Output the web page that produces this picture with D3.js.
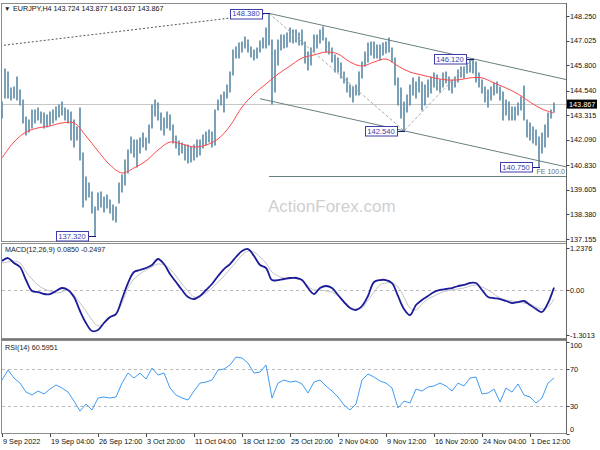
<!DOCTYPE html>
<html><head><meta charset="utf-8">
<script src="https://cdn.jsdelivr.net/npm/d3@7"></script>
<style>body{margin:0;background:#fff}svg{display:block}text{font-family:"Liberation Sans",Arial,sans-serif}</style>
</head><body><svg id="c" width="600" height="450"></svg>
<script>
const symbol = "EURJPY,H4";
const headerOHLC = ["143.724","143.877","143.637","143.867"];
const lastPrice = 143.867;
// H4 bars, listed in pairs (each entry covers 2 bars): highs / lows
const highs = [143.97,145.61,145.46,144.67,144.72,145.22,144.57,144.07,143.23,143.08,
143.57,143.57,143.67,143.47,143.42,143.33,143.47,143.57,143.72,143.82,
143.97,143.67,143.57,143.47,143.08,142.73,143.67,141.43,140.24,139.94,
139.49,138.75,139.44,139.49,139.25,139.34,139.10,138.85,138.75,139.94,
140.34,141.09,141.58,142.23,142.08,142.08,142.18,142.43,142.18,142.83,
143.82,144.07,143.92,143.42,143.18,143.47,143.33,142.83,142.28,142.03,
141.93,141.83,141.83,141.73,141.83,142.08,142.08,142.33,142.48,142.58,
142.48,143.57,144.07,144.32,144.47,144.82,145.46,146.56,146.71,146.91,
146.96,147.21,147.06,146.71,146.56,146.66,147.01,147.16,147.65,148.38,
147.06,146.56,147.06,147.30,147.30,147.40,147.65,147.55,147.55,147.40,
147.55,146.96,146.46,146.66,147.30,147.30,147.55,147.70,147.16,146.96,
146.66,146.31,146.16,145.91,145.46,145.17,144.82,144.72,144.82,145.46,
145.96,146.46,146.91,146.96,146.96,146.81,146.81,146.91,146.96,147.16,
146.66,146.16,145.17,144.67,143.97,144.32,144.82,145.17,144.97,145.22,
144.97,144.82,145.07,145.22,145.41,145.31,145.07,145.41,145.46,145.22,
145.07,145.22,145.56,145.71,145.71,145.91,146.06,146.12,145.96,145.41,
145.07,144.72,144.57,144.72,144.92,144.97,144.72,144.47,144.07,143.97,
143.72,143.72,143.92,144.22,144.77,143.08,142.93,142.73,142.58,142.23,
142.43,142.83,143.42,143.57,143.92];
const lows = [143.18,144.17,144.17,144.07,144.17,144.07,143.82,142.93,142.33,142.48,
142.68,142.93,143.08,142.93,142.68,142.73,142.83,142.93,143.08,143.23,
143.33,143.08,142.93,142.08,141.73,142.08,141.09,138.75,139.10,139.25,
138.45,137.32,138.60,138.75,138.50,138.70,138.45,138.10,138.00,138.95,
139.49,139.84,140.44,141.43,141.24,140.74,141.43,141.73,141.58,141.93,
142.68,143.28,143.08,142.58,142.33,142.68,142.58,141.93,141.68,141.34,
141.43,141.09,140.94,140.99,141.09,141.24,141.34,141.68,141.83,141.98,
141.73,141.83,143.57,143.82,143.47,144.17,144.47,145.31,146.16,146.16,
146.46,146.66,146.46,146.21,146.06,146.16,146.46,146.66,146.66,146.81,
143.87,144.47,145.81,146.56,146.66,146.71,146.96,146.91,146.96,146.81,
146.81,145.91,145.56,145.81,146.46,146.66,146.91,147.06,146.46,146.36,
145.96,145.46,145.46,145.17,144.92,144.47,144.22,143.97,144.32,144.32,
145.17,145.76,145.96,146.31,146.16,146.16,146.06,146.31,146.41,146.46,
145.96,144.82,143.82,143.18,142.54,143.47,143.82,144.32,144.17,144.47,
143.57,143.82,144.22,144.42,144.72,144.57,144.47,144.72,144.92,144.57,
144.42,144.72,144.97,145.22,145.17,145.41,145.46,145.41,144.97,144.72,
144.42,143.97,143.72,144.07,144.32,144.42,144.07,143.08,143.33,143.08,
143.08,143.08,143.33,143.57,143.08,142.23,142.08,141.93,141.83,140.75,
141.43,141.73,142.23,143.18,143.47];
// moving average, one value per 8 bars
const ma = [141.19,141.98,142.48,142.68,142.78,142.93,142.93,142.28,141.53,140.84,
140.44,140.69,141.04,141.58,141.98,141.88,141.73,141.83,142.13,142.78,
143.72,144.37,144.87,145.36,145.76,146.16,146.31,146.46,146.36,145.96,
145.76,145.96,146.11,145.76,145.46,145.31,145.17,145.07,145.07,145.17,
145.17,144.92,144.67,144.37,143.97,143.62,143.42];
// MACD(12,26,9), one value per 4 bars
const macdMain = [0.858,0.945,0.800,0.683,0.303,-0.018,-0.047,-0.105,-0.105,-0.018,
0.070,0.012,-0.193,-0.601,-0.951,-1.185,-1.156,-0.951,-0.776,-0.689,
-0.251,0.216,0.537,0.595,0.654,0.741,0.916,0.770,0.479,0.245,
0.012,-0.193,-0.251,-0.163,0.012,0.187,0.420,0.624,0.770,0.975,
1.150,1.208,1.004,0.741,0.654,0.303,0.303,0.333,0.362,0.362,
0.303,0.070,-0.105,0.070,0.128,0.070,-0.134,-0.339,-0.514,-0.572,
-0.455,-0.163,0.245,0.303,0.303,0.216,-0.163,-0.543,-0.718,-0.426,
-0.280,-0.163,-0.047,0.012,0.041,0.070,0.128,0.158,0.216,0.216,
0.012,-0.193,-0.222,-0.251,-0.309,-0.368,-0.339,-0.309,-0.426,-0.543,
-0.630,-0.368,0.0850];
const macdSignal = [0.800,0.829,0.858,0.800,0.537,0.333,0.158,0.041,-0.018,-0.076,
-0.047,0.012,-0.134,-0.368,-0.601,-0.864,-1.039,-0.922,-0.805,-0.659,
-0.368,0.070,0.333,0.479,0.595,0.683,0.770,0.741,0.624,0.420,
0.187,-0.018,-0.193,-0.163,-0.076,0.070,0.245,0.420,0.624,0.829,
1.033,1.150,1.120,0.975,0.800,0.537,0.420,0.362,0.362,0.391,
0.303,0.128,0.012,0.012,-0.018,-0.047,-0.163,-0.309,-0.484,-0.543,
-0.514,-0.280,-0.047,0.158,0.216,0.216,0.099,-0.193,-0.514,-0.572,
-0.397,-0.251,-0.163,-0.076,-0.018,0.012,0.041,0.070,0.128,0.158,
0.099,0.012,-0.105,-0.222,-0.280,-0.309,-0.339,-0.368,-0.397,-0.484,
-0.543,-0.484,-0.2497];
// RSI(14), one value per 4 bars
const rsi = [58.3,69.2,60.5,55.0,45.2,42.0,46.3,43.1,48.5,52.9,
49.6,45.2,35.4,24.5,32.2,25.6,38.7,39.8,38.7,39.8,
55.0,65.9,60.5,65.9,59.4,71.4,63.8,65.9,49.6,42.0,
38.7,36.5,46.3,55.0,56.1,58.3,69.2,70.3,74.7,83.4,
82.3,76.8,65.9,67.0,74.7,38.7,55.0,58.3,56.1,57.2,
54.0,44.1,56.1,58.3,51.8,46.3,39.8,31.1,25.6,32.2,
58.3,64.9,61.6,57.2,55.0,49.6,27.8,35.4,33.2,48.5,
46.3,50.7,51.8,55.0,51.8,46.3,55.0,51.8,60.5,61.6,
43.1,44.1,48.5,34.3,49.6,45.2,54.0,42.0,39.8,33.2,
38.7,55.0,60.5951];
const timeLabels = ["9 Sep 2022","19 Sep 04:00","26 Sep 12:00","3 Oct 20:00","11 Oct 04:00","18 Oct 12:00","25 Oct 20:00","2 Nov 04:00","9 Nov 12:00","16 Nov 20:00","24 Nov 04:00","1 Dec 12:00"];
const timeLabelStep = 32; // bars between time labels
const priceTicks = ["148.250","147.025","145.800","144.540","143.315","142.090","140.830","139.605","138.380","137.155"];
const macdTicks = ["1.2376","0.00","-1.3013"];
const rsiTicks = [100,70,30,0];
const rsiLevels = [70,30];
// swing points (bar index, price)
const swingHigh = {i:178, p:148.38};
const swingLow = {i:268, p:142.54};
const swingHigh2 = {i:314, p:146.12};
const extraLabels = [{i:62, p:137.32},{i:358, p:140.75}];
const trendStart = {i:0, p:146.77};

const svg = d3.select("#c");
const barsN = 368;
const x = d3.scaleLinear().domain([0, barsN]).range([2, 554]);
const yP = d3.scaleLinear().domain([137.155, 148.25]).range([239, 16]);
const yM = d3.scaleLinear().domain([-1.3013, 1.2376]).range([335, 248]);
const yR = d3.scaleLinear().domain([0, 100]).range([433.5, 341.8]);
const rightX = 566.5;
const iRight = x.invert(rightX);

const defs = svg.append("defs");
function clip(id, y0, y1){ defs.append("clipPath").attr("id",id).append("rect").attr("x",2).attr("y",y0).attr("width",564).attr("height",y1-y0); }
clip("cm",4,241); clip("cd",244,338); clip("cr",341,433);

// frames
function frame(y0,y1){ svg.append("rect").attr("x",1.5).attr("y",y0).attr("width",565).attr("height",y1-y0).attr("fill","none").attr("stroke","#8c8c8c"); }
frame(3.5,241.5); frame(243.5,338.5); frame(340.5,433.5);
svg.append("line").attr("x1",1).attr("x2",567).attr("y1",339.5).attr("y2",339.5).attr("stroke","#777").attr("stroke-width",1);

const gm = svg.append("g").attr("clip-path","url(#cm)");
// watermark
svg.append("text").attr("x",268).attr("y",212).attr("font-size",17).attr("fill","#cfcfcf").text("ActionForex.com");

// current price line
gm.append("line").attr("x1",0).attr("x2",rightX).attr("y1",Math.round(yP(lastPrice))+0.5).attr("y2",Math.round(yP(lastPrice))+0.5).attr("stroke","#c6c6c6");

// dotted trend line
gm.append("line").attr("x1",x(trendStart.i)-2).attr("y1",yP(trendStart.p)).attr("x2",x(swingHigh.i)).attr("y2",yP(swingHigh.p))
  .attr("stroke","#555").attr("stroke-dasharray","2,2");

// bars
const bars = highs.map((h,j)=>({i:2*j, h, l:lows[j]}));
gm.selectAll("line.bar").data(bars).join("line").attr("class","bar")
  .attr("x1",d=>x(d.i)).attr("x2",d=>x(d.i)).attr("y1",d=>yP(d.h)-0.5).attr("y2",d=>yP(d.l)+0.5)
  .attr("stroke","#6390ab").attr("stroke-width",1.7);

// MA
gm.append("path").datum(ma).attr("fill","none").attr("stroke","#ff4a4a").attr("stroke-width",1)
  .attr("d", d3.line().x((d,k)=>x(8*k)).y(d=>yP(d)).curve(d3.curveCatmullRom));

// channel
const slope = (swingHigh2.p - swingHigh.p)/(swingHigh2.i - swingHigh.i);
const chCol = "#688080";
gm.append("line").attr("x1",x(swingHigh.i)).attr("y1",yP(swingHigh.p)).attr("x2",rightX).attr("y2",yP(swingHigh.p+slope*(iRight-swingHigh.i))).attr("stroke",chCol);
const lowStart = 172;
gm.append("line").attr("x1",x(lowStart)).attr("y1",yP(swingLow.p+slope*(lowStart-swingLow.i))).attr("x2",rightX).attr("y2",yP(swingLow.p+slope*(iRight-swingLow.i))).attr("stroke",chCol);
// fibo expansion
const fePrice = swingHigh2.p - (swingHigh.p - swingLow.p);
gm.append("path").attr("d",`M${x(swingHigh.i)},${yP(swingHigh.p)}L${x(swingLow.i)},${yP(swingLow.p)}L${x(swingHigh2.i)},${yP(swingHigh2.p)}`)
  .attr("fill","none").attr("stroke","#aaa").attr("stroke-dasharray","3,2");
gm.append("line").attr("x1",x(swingHigh.i)).attr("x2",rightX).attr("y1",Math.round(yP(fePrice))+0.5).attr("y2",Math.round(yP(fePrice))+0.5).attr("stroke",chCol);
svg.append("text").attr("x",565).attr("y",yP(fePrice)-2.5).attr("text-anchor","end").attr("font-size",7).attr("fill","#607272").text("FE 100.0");

// price labels
const lblCol = "#3c3caa";
[swingHigh, swingLow, swingHigh2, ...extraLabels].forEach(s=>{
  const bx = x(s.i), by = yP(s.p);
  const w = 32, h = 9.5, r = bx - 7;
  svg.append("line").attr("x1",r).attr("x2",bx+1).attr("y1",Math.round(by)+0.5).attr("y2",Math.round(by)+0.5).attr("stroke","#1a1a7a");
  svg.append("rect").attr("x",Math.round(r-w)+0.5).attr("y",Math.round(by-h/2)+0.5).attr("width",w).attr("height",h).attr("fill","#fff").attr("stroke",lblCol);
  svg.append("text").attr("x",r-w/2).attr("y",by+3).attr("text-anchor","middle").attr("font-size",7.6).attr("fill",lblCol).text(s.p.toFixed(3));
});

// header
svg.append("text").attr("x",4).attr("y",10.5).attr("font-size",6.5).attr("fill","#222").text("▼");
svg.append("text").attr("x",13).attr("y",10.5).attr("font-size",7.2).attr("fill","#111").text(symbol+" "+headerOHLC.join(" "));

// MACD panel
const gd = svg.append("g").attr("clip-path","url(#cd)");
gd.append("line").attr("x1",2).attr("x2",rightX).attr("y1",Math.round(yM(0))+0.5).attr("y2",Math.round(yM(0))+0.5).attr("stroke","#bbb").attr("stroke-dasharray","3,3");
gd.append("path").datum(macdSignal).attr("fill","none").attr("stroke","#c4c4c4").attr("stroke-width",1)
  .attr("d", d3.line().x((d,k)=>x(4*k)).y(d=>yM(d)).curve(d3.curveCatmullRom));
gd.append("path").datum(macdMain).attr("fill","none").attr("stroke","#1c1c9a").attr("stroke-width",1.8)
  .attr("d", d3.line().x((d,k)=>x(4*k)).y(d=>yM(d)).curve(d3.curveCatmullRom));
svg.append("text").attr("x",5).attr("y",252).attr("font-size",7.2).attr("fill","#222")
  .text(`MACD(12,26,9) ${macdMain[macdMain.length-1].toFixed(4)} ${macdSignal[macdSignal.length-1].toFixed(4)}`);

// RSI panel
const gr = svg.append("g").attr("clip-path","url(#cr)");
rsiLevels.forEach(v=>gr.append("line").attr("x1",2).attr("x2",rightX).attr("y1",Math.round(yR(v))+0.5).attr("y2",Math.round(yR(v))+0.5).attr("stroke","#bbb").attr("stroke-dasharray","3,3"));
gr.append("path").datum(rsi).attr("fill","none").attr("stroke","#3f9bf3").attr("stroke-width",1)
  .attr("d", d3.line().x((d,k)=>x(4*k)).y(d=>yR(d)));
svg.append("text").attr("x",5).attr("y",350).attr("font-size",7.2).attr("fill","#222").text(`RSI(14) ${rsi[rsi.length-1].toFixed(4)}`);

// right axis
svg.append("line").attr("x1",rightX).attr("x2",rightX).attr("y1",3).attr("y2",434).attr("stroke","#666");
function rtick(y, label, ly){
  svg.append("line").attr("x1",rightX).attr("x2",rightX+3).attr("y1",Math.round(y)+0.5).attr("y2",Math.round(y)+0.5).attr("stroke","#444");
  svg.append("text").attr("x",570).attr("y",(ly===undefined?y:ly)+2.6).attr("font-size",7.3).attr("fill","#111").text(label);
}
priceTicks.forEach(t=>rtick(yP(+t), t));
svg.append("rect").attr("x",567).attr("y",yP(lastPrice)-4.5).attr("width",30).attr("height",9).attr("fill","#000");
svg.append("text").attr("x",569).attr("y",yP(lastPrice)+2.6).attr("font-size",7.3).attr("fill","#fff").text(lastPrice.toFixed(3));
macdTicks.forEach(t=>rtick(yM(+t), t));
rsiTicks.forEach(t=>{ const y=yR(t); rtick(y, String(t), Math.min(Math.max(y,345),429)); });

// bottom time axis
timeLabels.forEach((t,k)=>{
  const tx = Math.round(x(k*timeLabelStep))+0.5;
  svg.append("line").attr("x1",tx).attr("x2",tx).attr("y1",433.5).attr("y2",437).attr("stroke","#444");
  svg.append("text").attr("x",tx+0.5).attr("y",443.5).attr("font-size",7.3).attr("fill","#111").text(t);
});
</script></body></html>
